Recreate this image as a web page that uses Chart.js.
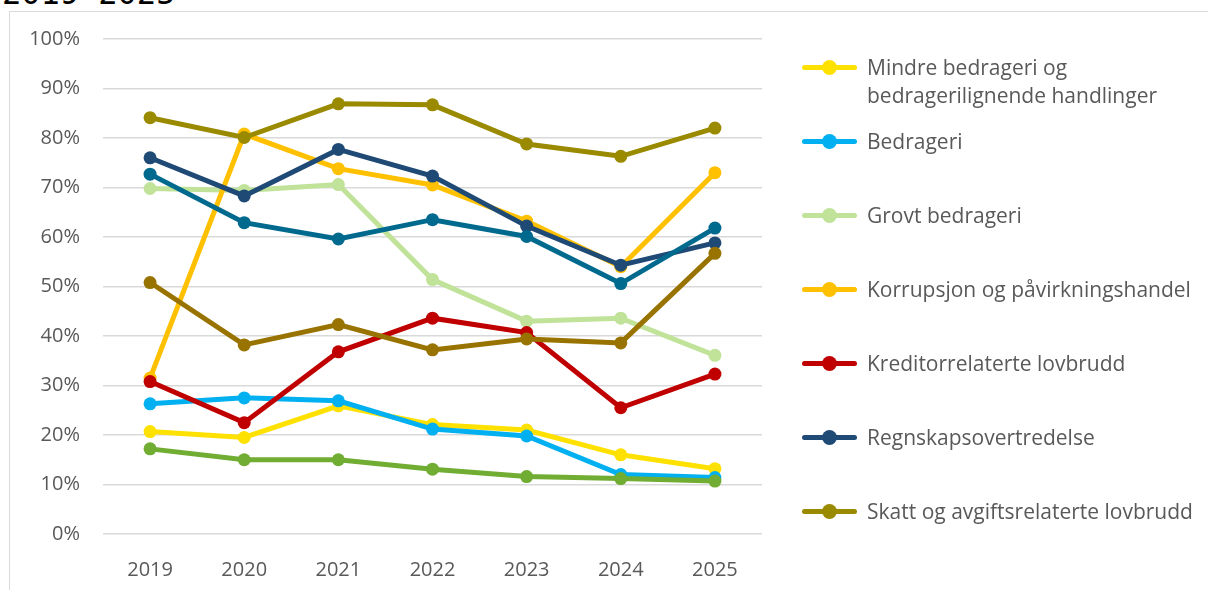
<!DOCTYPE html>
<html>
<head>
<meta charset="utf-8">
<script src="https://cdn.jsdelivr.net/npm/chart.js@4/dist/chart.umd.min.js"></script>
<style>
  html, body { margin:0; padding:0; background:#fff; }
  body { width:1208px; height:590px; position:relative; overflow:hidden; font-family:'Open Sans', sans-serif; }
  #frame { position:absolute; left:9px; top:11px; width:1210px; height:600px; border:1.5px solid #d9d9d9; box-sizing:border-box; }
  #title { position:absolute; left:2px; top:-26px; font-size:32px; color:#000; font-family:'DejaVu Sans Mono', monospace; }
  #wrap { position:absolute; left:0; top:0; width:1208px; height:590px; }
  #legend { position:absolute; left:802px; top:0; }
  .item { position:absolute; left:0; width:410px; color:#595959; font-size:21px; line-height:28px; }
  .mark { position:absolute; left:0; top:12px; width:55px; height:5px; border-radius:3px; }
  .mark i { position:absolute; left:20px; top:-5px; width:15px; height:15px; border-radius:50%; }
  .label { position:absolute; left:65px; top:0; white-space:nowrap; }
</style>
</head>
<body>
<div id="title">2019-2025</div>
<div id="frame"></div>
<div id="wrap"><canvas id="chart" width="1208" height="590"></canvas></div>
<div id="legend"></div>
<script>
const years = ['2019','2020','2021','2022','2023','2024','2025'];

const mindreBedrageri = [20.7, 19.5, 25.9, 22.1, 21.0, 16.0, 13.2];
const bedrageri       = [26.3, 27.5, 26.9, 21.2, 19.8, 12.0, 11.4];
const grovtBedrageri  = [69.8, 69.4, 70.6, 51.4, 43.0, 43.6, 36.1];
const korrupsjon      = [31.5, 80.8, 73.8, 70.5, 63.2, 54.0, 73.0];
const kreditor        = [30.8, 22.5, 36.8, 43.6, 40.7, 25.5, 32.3];
const regnskap        = [76.0, 68.3, 77.7, 72.3, 62.2, 54.3, 58.8];
const skatt           = [84.1, 80.1, 86.9, 86.7, 78.8, 76.3, 82.0];
const seriesTeal      = [72.7, 62.9, 59.6, 63.5, 60.1, 50.6, 61.8];
const seriesGreen     = [17.2, 15.0, 15.0, 13.1, 11.6, 11.2, 10.7];
const seriesBrown     = [50.8, 38.2, 42.3, 37.2, 39.4, 38.6, 56.7];

const yTicks = [0,10,20,30,40,50,60,70,80,90,100];

const series = [
  { name:['Mindre bedrageri og','bedragerilignende handlinger'], data:mindreBedrageri, color:'#FFE100', legend:true },
  { name:['Bedrageri'], data:bedrageri, color:'#00B0F0', legend:true },
  { name:['Grovt bedrageri'], data:grovtBedrageri, color:'#C0E399', legend:true },
  { name:['Korrupsjon og påvirkningshandel'], data:korrupsjon, color:'#FFC000', legend:true },
  { name:['Kreditorrelaterte lovbrudd'], data:kreditor, color:'#C00000', legend:true },
  { name:['Regnskapsovertredelse'], data:regnskap, color:'#1F4A75', legend:true },
  { name:['Skatt og avgiftsrelaterte lovbrudd'], data:skatt, color:'#9A8A00', legend:true },
  { name:[''], data:seriesTeal, color:'#006A8E', legend:false },
  { name:[''], data:seriesGreen, color:'#70AD32', legend:false },
  { name:[''], data:seriesBrown, color:'#997300', legend:false }
];

// legend (html)
const legendDiv = document.getElementById('legend');
let li = 0;
series.filter(s=>s.legend).forEach(s=>{
  const item = document.createElement('div');
  item.className = 'item';
  item.style.top = (53 + li*74) + 'px';
  item.innerHTML = `<div class="mark" style="background:${s.color}"><i style="background:${s.color}"></i></div>` +
                   `<div class="label">${s.name.join('<br>')}</div>`;
  legendDiv.appendChild(item);
  li++;
});

new Chart(document.getElementById('chart').getContext('2d'), {
  type:'line',
  data:{
    labels:years,
    datasets:series.map((s,i)=>({
      label:s.name.join(' '),
      data:s.data,
      borderColor:s.color,
      backgroundColor:s.color,
      pointBackgroundColor:s.color,
      pointBorderColor:s.color,
      borderWidth:5,
      pointRadius:6.5,
      pointBorderWidth:0,
      tension:0,
      fill:false,
      order:series.length - i
    }))
  },
  options:{
    responsive:false,
    animation:false,
    layout:{ padding:{ left:0, right:446, top:39, bottom:0 } },
    plugins:{ legend:{ display:false }, tooltip:{ enabled:false } },
    scales:{
      x:{
        offset:true,
        grid:{ display:false },
        border:{ display:false },
        ticks:{ color:'#595959', font:{ family:'Open Sans', size:20 }, padding:16 },
        afterFit:scale=>{ scale.height = 56; }
      },
      y:{
        min:0, max:100,
        afterBuildTicks:scale=>{ scale.ticks = yTicks.map(v=>({ value:v })); },
        grid:{ color:'#d9d9d9', lineWidth:1.5, drawTicks:false },
        border:{ display:false },
        ticks:{ color:'#595959', font:{ family:'Open Sans', size:20 }, padding:23, callback:v=>v+'%' },
        afterFit:scale=>{ scale.width = 103; }
      }
    }
  }
});
</script>
</body>
</html>
